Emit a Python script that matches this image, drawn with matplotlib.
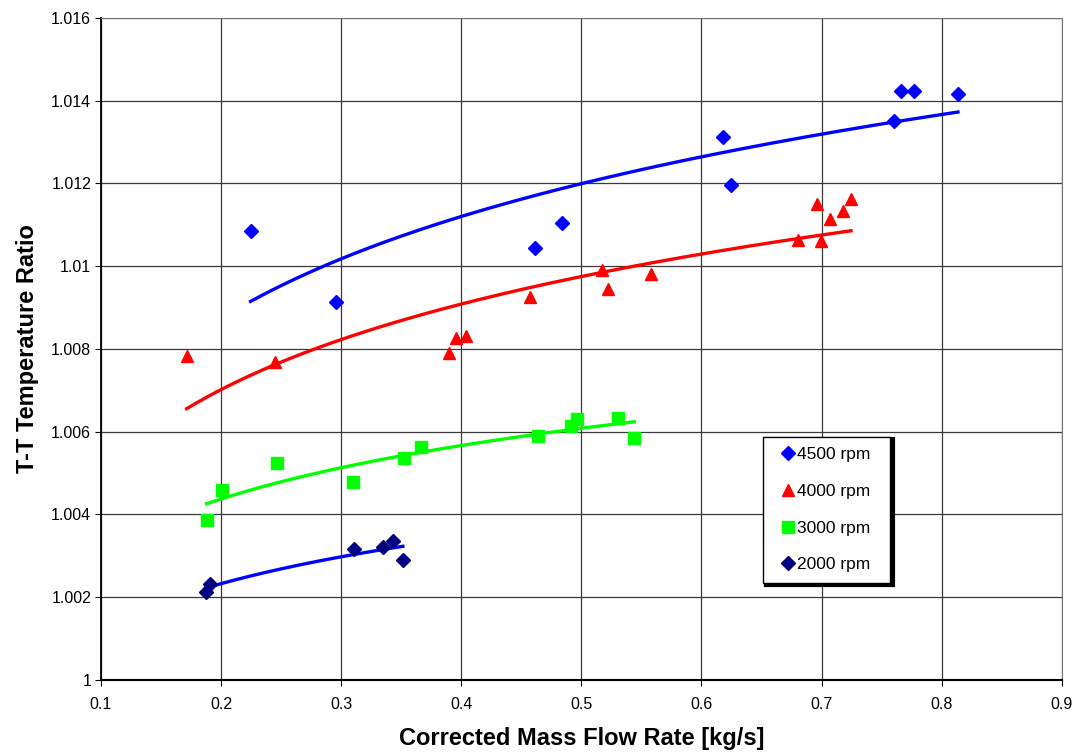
import matplotlib.pyplot as plt
import numpy as np
from matplotlib.ticker import FuncFormatter, MultipleLocator

plt.rcParams['font.family'] = ['Liberation Sans', 'DejaVu Sans']

# mass flow [kg/s] and T-T temperature ratio
x_4500 = [0.2246, 0.2953, 0.4617, 0.4840, 0.6176, 0.6243, 0.7600, 0.7662, 0.7770, 0.8136]
y_4500 = [1.01086, 1.00913, 1.01044, 1.01104, 1.01312, 1.01195, 1.01351, 1.01423, 1.01423, 1.01416]

x_4000 = [0.1714, 0.2449, 0.3901, 0.3953, 0.4039, 0.4571, 0.5175, 0.5219, 0.5577,
          0.6807, 0.6960, 0.6995, 0.7073, 0.7181, 0.7245]
y_4000 = [1.00782, 1.00768, 1.00790, 1.00826, 1.00831, 1.00926, 1.00992, 1.00946, 1.00982,
          1.01063, 1.01150, 1.01061, 1.01114, 1.01133, 1.01163]

x_3000 = [0.1880, 0.2011, 0.2468, 0.3095, 0.3527, 0.3665, 0.4637, 0.4911, 0.4961, 0.5308, 0.5441]
y_3000 = [1.00386, 1.00460, 1.00525, 1.00479, 1.00536, 1.00564, 1.00590, 1.00615, 1.00631,
          1.00633, 1.00584]

x_2000 = [0.1873, 0.1906, 0.3110, 0.3348, 0.3434, 0.3514]
y_2000 = [1.00213, 1.00231, 1.00317, 1.00322, 1.00335, 1.00291]

series = [
    ('4500 rpm', x_4500, y_4500, 'D', '#0000FF', 7.5, '#0000FF'),
    ('4000 rpm', x_4000, y_4000, '^', '#FF0000', 8, '#FF0000'),
    ('3000 rpm', x_3000, y_3000, 's', '#00FF00', 8, '#00FF00'),
    ('2000 rpm', x_2000, y_2000, 'D', '#000080', 7.5, '#0000FF'),
]

fig = plt.figure(figsize=(10.82, 7.55), dpi=100)
ax = fig.add_axes([0.0933, 0.0993, 0.888, 0.877])

for label, xs, ys, mk, col, ms, tcol in series:
    xs = np.array(xs)
    ys = np.array(ys)
    # logarithmic trend line (least squares on ln x)
    k, b = np.polyfit(np.log(xs), ys, 1)
    xt = np.linspace(xs.min(), xs.max(), 200)
    ax.plot(xt, k * np.log(xt) + b, color=tcol, lw=2.4, zorder=2)
    ax.plot(xs, ys, linestyle='none', marker=mk, ms=ms, color=col,
            markeredgecolor=col, label=label, zorder=3)

ax.set_xlim(0.1, 0.9)
ax.set_ylim(1.0, 1.016)
ax.xaxis.set_major_locator(MultipleLocator(0.1))
ax.yaxis.set_major_locator(MultipleLocator(0.002))
ax.xaxis.set_major_formatter(FuncFormatter(lambda v, p: '%g' % round(v, 3)))
ax.yaxis.set_major_formatter(FuncFormatter(lambda v, p: '%g' % round(v, 4)))
ax.grid(True, color='#3a3a3a', lw=0.9, zorder=0)
ax.set_axisbelow(True)
for s in ['top', 'right']:
    ax.spines[s].set_color('#777777')
ax.spines['left'].set_linewidth(1.3)
ax.spines['bottom'].set_linewidth(1.5)
ax.tick_params(direction='out', length=4, labelsize=11.5, colors='black')
ax.tick_params(axis='y', pad=3)
ax.tick_params(axis='x', pad=8)

ax.set_xlabel('Corrected Mass Flow Rate [kg/s]', fontsize=17, fontweight='bold', labelpad=11)
ax.set_ylabel('T-T Temperature Ratio', fontsize=17, fontweight='bold', labelpad=9)

leg = ax.legend(loc='lower left', bbox_to_anchor=(0.689, 0.147, 0.1322, 0.2),
                mode='expand', fontsize=12.5,
                frameon=True, fancybox=False, edgecolor='black', framealpha=1,
                shadow={'color': 'black', 'alpha': 1, 'linewidth': 3},
                labelspacing=1.24, handlelength=1.68, handletextpad=-0.32,
                borderpad=0.6, borderaxespad=0)
leg.get_frame().set_linewidth(1.0)

fig.savefig('out.png', dpi=100)
